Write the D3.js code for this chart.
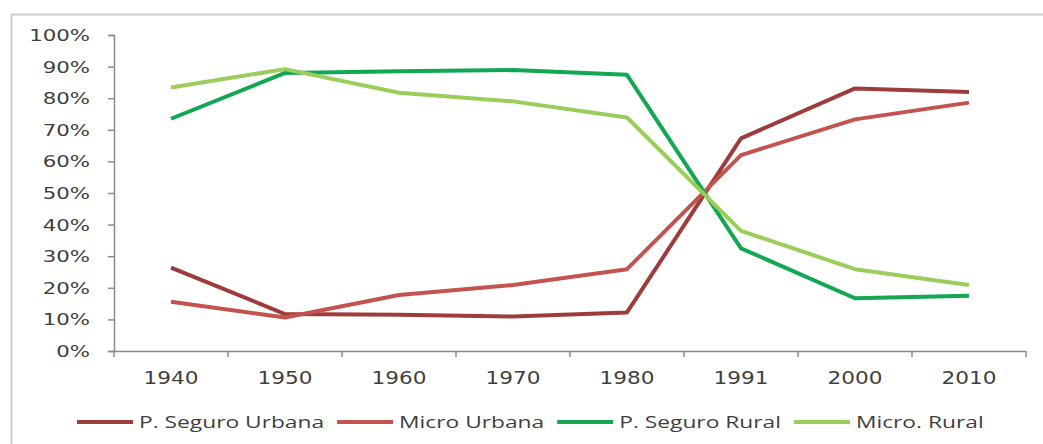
<!DOCTYPE html>
<html><head><meta charset="utf-8">
<script src="https://cdn.jsdelivr.net/npm/d3@7"></script>
<style>
html,body{margin:0;padding:0;background:#fff;}
svg{display:block;}
</style></head>
<body><svg id="c" width="1043" height="444"></svg>
<script>
const years = ["1940","1950","1960","1970","1980","1991","2000","2010"];
const pSeguroUrbana = [26.4, 11.7, 11.5, 10.9, 12.2, 67.3, 83.1, 82.0];
const microUrbana   = [15.6, 10.6, 17.7, 20.9, 25.9, 62.0, 73.3, 78.6];
const pSeguroRural  = [73.5, 88.0, 88.5, 88.9, 87.4, 32.5, 16.7, 17.5];
const microRural    = [83.4, 89.2, 81.7, 79.0, 73.9, 38.0, 25.9, 20.9];
const yTicks = [0,10,20,30,40,50,60,70,80,90,100];
const seriesNames = ["P. Seguro Urbana","Micro Urbana","P. Seguro Rural","Micro. Rural"];
const seriesColors = ["#9e3b3b","#c4534f","#12a853","#9acd5a"];
const seriesData = [pSeguroUrbana, microUrbana, pSeguroRural, microRural];

const svg = d3.select("#c");
const W = 1043, H = 444;
const m = {left:114, top:35, right:1026, bottom:351};

// outer frame (top and left edges visible)
svg.append("rect").attr("x",11.5).attr("y",14.5).attr("width",W+20).attr("height",H+20)
  .attr("fill","none").attr("stroke","#cfcfcf").attr("stroke-width",2);

const x = d3.scaleBand().domain(years).range([m.left, m.right]);
const y = d3.scaleLinear().domain([0,100]).range([m.bottom, m.top]);

const axisColor = "#8c8c8c";
const textColor = "#3f3f3f";
const font = "'DejaVu Sans', sans-serif";

// Y axis
const gy = svg.append("g").attr("transform",`translate(${m.left},0)`)
  .call(d3.axisLeft(y).tickValues(yTicks).tickSize(6).tickPadding(0).tickFormat(d=>d+"%"));
gy.select(".domain").attr("stroke",axisColor).attr("stroke-width",1.5);
gy.selectAll(".tick line").attr("stroke",axisColor).attr("stroke-width",1.5);
gy.selectAll(".tick text").attr("x",0).attr("dy","0.36em")
  .attr("transform","translate(-24,0) scale(1.42,1)")
  .attr("font-family",font).attr("font-size",15).attr("fill",textColor);

// X axis
const gx = svg.append("g").attr("transform",`translate(0,${m.bottom})`)
  .call(d3.axisBottom(x).tickSize(0).tickPadding(0));
gx.select(".domain").attr("stroke",axisColor).attr("stroke-width",1.5);
gx.selectAll(".tick text").attr("y",0).attr("dy","0.71em")
  .attr("transform","translate(0,21) scale(1.27,1)")
  .attr("font-family",font).attr("font-size",17).attr("fill",textColor);
// band boundary ticks
const bounds = years.map(d=>x(d)).concat([x(years[years.length-1])+x.bandwidth()]);
gx.selectAll(".btick").data(bounds).enter().append("line")
  .attr("x1",d=>d).attr("x2",d=>d).attr("y1",0).attr("y2",6)
  .attr("stroke",axisColor).attr("stroke-width",1.5);

// lines
const line = d3.line().x((d,i)=>x(years[i])+x.bandwidth()/2).y(d=>y(d));
seriesData.forEach((data,i)=>{
  svg.append("path").datum(data).attr("d",line)
    .attr("fill","none").attr("stroke",seriesColors[i]).attr("stroke-width",4)
    .attr("stroke-linejoin","round").attr("stroke-linecap","butt");
});

// legend
const lg = svg.append("g").attr("transform","translate(0,422)");
let cx = 77;
const lineLen = 56, gap1 = 6, gap2 = 13, lsx = 1.34;
seriesNames.forEach((name,i)=>{
  lg.append("line").attr("x1",cx).attr("x2",cx+lineLen).attr("y1",0).attr("y2",0)
    .attr("stroke",seriesColors[i]).attr("stroke-width",4);
  cx += lineLen + gap1;
  const t = lg.append("text").attr("x",0).attr("y",0).attr("dy","0.36em")
    .attr("transform",`translate(${cx},0) scale(${lsx},1)`)
    .attr("font-family","'Open Sans', sans-serif").attr("font-size",17).attr("fill",textColor)
    .text(name);
  const w = t.node().getComputedTextLength()*lsx;
  cx += w + gap2;
});
</script></body></html>
